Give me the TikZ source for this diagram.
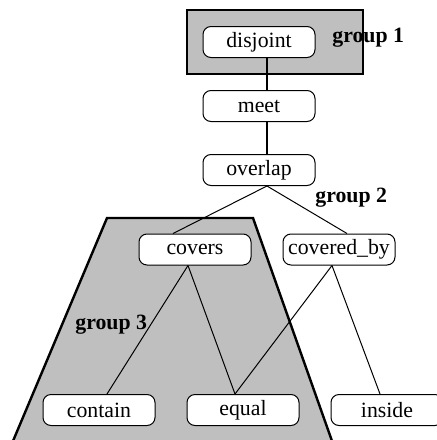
\documentclass[tikz,border=0pt]{standalone}
\usepackage{fontspec}
\setmainfont{Liberation Serif}
\colorlet{groupcol}{black!25!white}
\colorlet{linecol}{black}
\tikzset{every node/.style={font=\fontsize{10.9}{13}\selectfont}}
\tikzset{
  relbox/.style={draw, rounded corners=4pt, fill=white, line width=0.5pt,
    minimum width=56pt, minimum height=15.5pt, inner sep=0pt},
  grouplabel/.style={font=\fontsize{10.9}{13}\selectfont\bfseries,
    inner sep=0pt, anchor=west},
  groupbox/.style={draw, line width=1.2pt, fill=groupcol},
  chainline/.style={line width=1pt, linecol},
  linkline/.style={line width=0.5pt, linecol},
}

\begin{document}
\begin{tikzpicture}[x=0.5pt, y=-0.5pt]

  \useasboundingbox (0,0) rectangle (437,440);

  % Group 1 box.
  \draw[groupbox] (187,10) rectangle (363,74);

  % Group 3 trapezoid (runs off the bottom).
  \draw[groupbox] (13,441) -- (107,218) -- (253,218) -- (332,441);

  % Relation nodes.
  \node[relbox] (disjoint)  at (259,42)    {disjoint};
  \node[relbox] (meet)      at (259,106)   {meet};
  \node[relbox] (overlap)   at (259,170)   {overlap};
  \node[relbox] (covers)    at (195,249.5) {covers};
  \node[relbox] (coveredby) at (339,249.5) {covered\_by};
  \node[relbox] (contain)   at (99,410)    {contain};
  \node[relbox] (equal)     at (243,410)   {equal};
  \node[relbox] (inside)    at (387,410)   {inside};

  % Chain at the top.
  \draw[chainline] ([xshift=4pt]disjoint.south) -- ([xshift=4pt]meet.north);
  \draw[chainline] ([xshift=4pt]meet.south) -- ([xshift=4pt]overlap.north);

  % Branches.
  \draw[linkline] ([xshift=4pt]overlap.south) -- ([xshift=-11pt]covers.north);
  \draw[linkline] ([xshift=4pt]overlap.south) -- ([xshift=4pt]coveredby.north);
  \draw[linkline] ([xshift=-3.5pt]covers.south) -- ([xshift=4pt]contain.north);
  \draw[linkline] ([xshift=-3.5pt]covers.south) -- ([xshift=-4pt]equal.north);
  \draw[linkline] ([xshift=-3.5pt]coveredby.south) -- ([xshift=-4pt]equal.north);
  \draw[linkline] ([xshift=-3.5pt]coveredby.south) -- ([xshift=-3.5pt]inside.north);

  % Group labels.
  \node[grouplabel] (glabel1) at (332,38)  {group 1};
  \node[grouplabel] (glabel2) at (315,198) {group 2};
  \node[grouplabel] (glabel3) at (75,325)  {group 3};

\end{tikzpicture}
\end{document}
